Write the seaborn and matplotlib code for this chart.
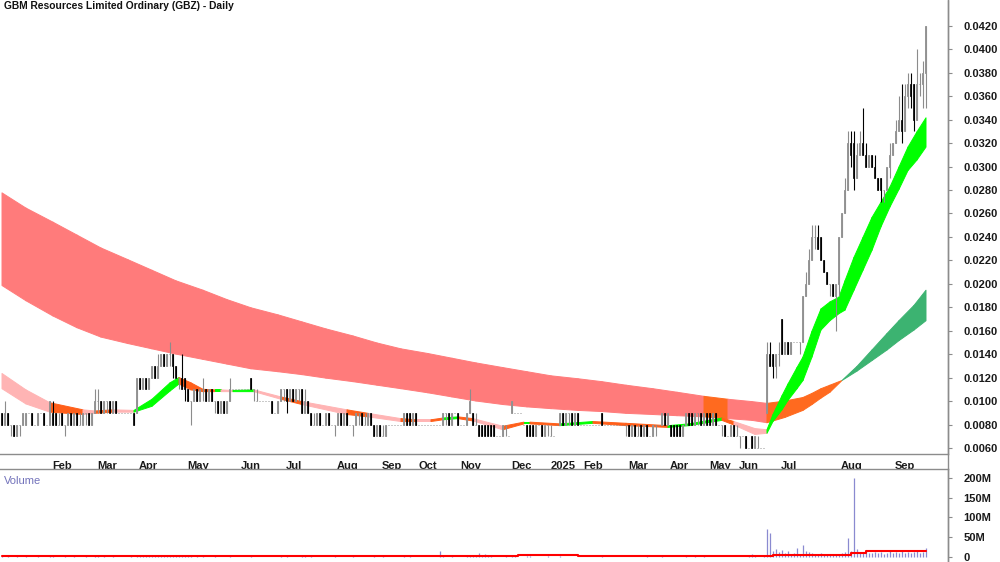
import numpy as np
import matplotlib
matplotlib.use("Agg")
import matplotlib.pyplot as plt
import matplotlib.transforms as mtransforms
from matplotlib.lines import Line2D
from matplotlib.ticker import FuncFormatter
import seaborn as sns

# -------------------------------
# DATA  (prices in units of 0.001, volume in millions)
# one entry per trading day, index 0 = first bar of the chart
# -------------------------------
TITLE = "GBM Resources Limited Ordinary (GBZ) - Daily"

opens = [
    9, 8, 9, 8, 8, 7, 8, 8, 8, 9,  9, 8, 8, 9, 9, 8, 8, 9, 9, 8,
    9, 8, 8, 9, 8, 9, 8, 8, 9, 9,  8, 9, 10, 10, 9, 10, 10, 9, 10, 9,
    9, 9, 9, 9, 9, 9, 12, 11, 12, 11,  12, 13, 12, 13, 14, 13, 14, 14, 13, 12,
    12, 12, 11, 10, 10, 11, 10, 11, 11, 10,  11, 10, 10, 9, 10, 9, 10, 11, 11, 11,
    11, 11, 11, 12, 11, 10, 10, 10, 10, 10,  10, 9, 9, 10, 11, 11, 10, 11, 10, 11,
    11, 9, 10, 9, 8, 8, 9, 8, 8, 9,  8, 8, 8, 9, 8, 9, 8, 8, 8, 9,
    9, 8, 8, 9, 8, 7, 8, 7, 7, 8,  8, 8, 8, 8, 8, 9, 9, 8, 9, 8,
    8, 8, 8, 8, 8, 8, 8, 8, 9, 9,  8, 9, 9, 8, 8, 8, 9, 9, 8, 8,
    8, 8, 8, 8, 8, 7, 7, 7, 8, 7,  9, 9, 9, 9, 8, 8, 8, 8, 7, 8,
    8, 7, 8, 7, 7, 8, 8, 9, 8, 9,  9, 8, 9, 8, 8, 8, 8, 8, 8, 8,
    9, 8, 8, 8, 8, 8, 8, 8, 8, 8,  7, 8, 7, 8, 7, 8, 7, 7, 8, 8,
    8, 9, 8, 8, 8, 8, 8, 7, 8, 9,  9, 8, 9, 9, 8, 9, 9, 8, 9, 8,
    8, 8, 7, 7, 8, 7, 7, 7, 7, 6,  7, 6, 6, 6, 6, 9, 14, 14, 13, 14,
    17, 14, 15, 14, 15, 15, 15, 15, 19, 20,  22, 24, 24, 24, 22, 21, 20, 20, 19, 20,
    24, 26, 28, 32, 32, 29, 31, 32, 31, 30,  31, 30, 29, 29, 28, 28, 30, 31, 32, 33,
    34, 33, 36, 37, 37, 34, 37, 37, 38,
]
closes = [
    8, 9, 8, 8, 7, 8, 8, 9, 9, 9,  8, 8, 9, 9, 8, 8, 10, 8, 8, 8,
    8, 8, 9, 8, 9, 8, 8, 9, 9, 8,  9, 10, 10, 9, 10, 10, 9, 10, 9, 9,
    9, 9, 9, 9, 8, 12, 11, 12, 11, 12,  13, 12, 13, 14, 13, 14, 14, 13, 12, 12,
    11, 11, 10, 10, 11, 10, 11, 11, 10, 11,  10, 10, 9, 10, 9, 10, 11, 11, 11, 11,
    11, 11, 11, 11, 11, 10, 10, 10, 10, 10,  9, 9, 10, 11, 11, 10, 11, 10, 11, 11,
    9, 10, 9, 8, 8, 9, 8, 8, 9, 8,  8, 8, 9, 8, 9, 8, 8, 8, 9, 9,
    8, 8, 9, 8, 7, 8, 7, 7, 8, 8,  8, 8, 8, 8, 9, 8, 8, 9, 8, 8,
    8, 8, 8, 8, 8, 8, 8, 9, 9, 8,  9, 9, 8, 8, 8, 9, 10, 8, 8, 7,
    7, 7, 7, 7, 7, 7, 7, 8, 8, 7,  10, 9, 9, 9, 8, 7, 7, 7, 8, 8,
    7, 8, 8, 7, 7, 8, 9, 8, 9, 9,  8, 9, 8, 8, 8, 8, 8, 8, 8, 8,
    8, 8, 8, 8, 8, 8, 8, 8, 8, 7,  8, 7, 7, 7, 8, 7, 7, 8, 8, 8,
    9, 8, 9, 7, 7, 7, 7, 8, 9, 8,  8, 9, 9, 8, 9, 8, 8, 9, 8, 8,
    8, 7, 7, 8, 7, 7, 7, 7, 6, 6,  6, 7, 6, 6, 6, 14, 13, 13, 14, 14,
    14, 15, 14, 15, 15, 15, 15, 19, 20, 22,  24, 24, 23, 22, 21, 20, 20, 19, 20, 24,
    26, 28, 32, 31, 29, 31, 32, 31, 30, 31,  30, 29, 28, 28, 28, 30, 31, 32, 33, 34,
    33, 36, 37, 36, 34, 37, 37, 38, 42,
]
highs = [
    9, 10, 9, 8, 8, 8, 8, 9, 9, 9,  9, 8, 9, 9, 9, 8, 10, 10, 9, 9,
    9, 8, 9, 9, 9, 9, 9, 9, 9, 9,  9, 11, 11, 10, 10, 10, 10, 10, 10, 9,
    9, 9, 9, 9, 9, 12, 12, 12, 12, 12,  13, 13, 14, 14, 14, 14, 15, 14, 13, 12,
    14, 12, 11, 10, 11, 11, 11, 12, 11, 11,  11, 10, 10, 10, 10, 10, 12, 11, 11, 11,
    11, 11, 11, 12, 11, 11, 10, 10, 10, 10,  10, 9, 10, 11, 11, 11, 11, 11, 11, 11,
    11, 11, 10, 9, 9, 9, 9, 8, 9, 9,  8, 8, 9, 9, 9, 9, 8, 8, 9, 9,
    9, 9, 9, 9, 8, 8, 8, 8, 8, 8,  8, 8, 8, 8, 9, 9, 9, 9, 9, 8,
    8, 8, 8, 8, 8, 8, 8, 9, 9, 9,  9, 9, 9, 8, 8, 9, 11, 9, 9, 8,
    8, 8, 8, 8, 8, 7, 7, 8, 8, 7,  10, 9, 9, 9, 8, 8, 8, 8, 8, 8,
    8, 8, 8, 8, 7, 8, 9, 9, 9, 9,  9, 9, 9, 8, 8, 8, 8, 8, 8, 8,
    9, 8, 8, 8, 8, 8, 8, 8, 8, 8,  8, 8, 8, 8, 8, 8, 7, 8, 8, 8,
    9, 9, 9, 8, 8, 8, 8, 8, 9, 9,  9, 9, 9, 9, 9, 9, 9, 9, 9, 8,
    8, 8, 7, 8, 8, 8, 7, 7, 7, 6,  7, 7, 7, 6, 6, 15, 15, 14, 14, 15,
    17, 15, 15, 15, 15, 15, 15, 19, 21, 23,  25, 25, 25, 24, 22, 21, 20, 20, 20, 24,
    26, 29, 33, 33, 33, 32, 33, 35, 32, 31,  31, 31, 29, 29, 28, 30, 32, 32, 34, 36,
    37, 37, 38, 38, 37, 40, 38, 39, 42,
]
lows = [
    8, 8, 8, 7, 7, 7, 7, 8, 8, 9,  8, 8, 8, 9, 8, 8, 8, 8, 8, 8,
    8, 7, 8, 8, 8, 8, 8, 8, 8, 8,  8, 9, 9, 9, 9, 9, 9, 9, 9, 9,
    9, 9, 9, 9, 8, 9, 11, 11, 11, 11,  12, 12, 12, 13, 13, 13, 13, 12, 12, 11,
    11, 10, 10, 8, 10, 10, 10, 10, 10, 10,  10, 9, 9, 9, 9, 9, 10, 11, 11, 11,
    11, 11, 11, 11, 10, 10, 10, 10, 10, 10,  9, 9, 9, 10, 10, 9, 10, 10, 10, 10,
    9, 9, 9, 8, 8, 8, 8, 8, 8, 8,  8, 7, 8, 8, 8, 8, 8, 7, 8, 8,
    8, 8, 8, 8, 7, 7, 7, 7, 7, 8,  8, 8, 8, 8, 8, 8, 8, 8, 8, 8,
    8, 8, 8, 8, 8, 8, 8, 8, 8, 8,  8, 9, 8, 8, 8, 8, 9, 8, 8, 7,
    7, 7, 7, 7, 7, 7, 7, 7, 7, 7,  9, 9, 9, 9, 8, 7, 7, 7, 7, 8,
    7, 7, 7, 7, 7, 8, 8, 8, 8, 8,  8, 8, 8, 8, 8, 8, 8, 8, 8, 8,
    8, 8, 8, 8, 8, 8, 8, 8, 7, 7,  7, 7, 7, 7, 7, 7, 7, 7, 7, 8,
    8, 8, 8, 7, 7, 7, 7, 7, 8, 8,  8, 8, 8, 8, 8, 8, 8, 8, 8, 8,
    7, 7, 7, 7, 7, 7, 6, 7, 6, 6,  6, 6, 6, 6, 6, 9, 13, 12, 12, 13,
    14, 14, 14, 14, 15, 15, 14, 15, 19, 20,  22, 23, 23, 22, 21, 20, 19, 19, 16, 19,
    24, 26, 28, 30, 28, 29, 31, 31, 30, 30,  30, 29, 28, 27, 27, 28, 29, 31, 32, 33,
    32, 33, 35, 35, 33, 34, 36, 35, 35,
]
volume = [
    2, 1, 2, 1, 1, 2, 1, 1, 2, 1,  1, 1, 2, 1, 1, 1, 3, 2, 1, 1,
    1, 2, 1, 1, 2, 1, 1, 1, 2, 1,  1, 3, 2, 1, 2, 1, 1, 2, 1, 1,
    1, 1, 1, 2, 1, 4, 3, 2, 2, 3,  2, 3, 2, 4, 3, 2, 5, 3, 2, 2,
    3, 2, 2, 3, 1, 2, 1, 2, 1, 1,  1, 2, 1, 1, 1, 1, 2, 1, 1, 1,
    1, 1, 1, 2, 1, 1, 1, 1, 1, 1,  1, 1, 1, 2, 1, 2, 1, 1, 1, 1,
    3, 2, 1, 2, 1, 1, 1, 1, 1, 1,  1, 2, 1, 1, 1, 1, 1, 2, 1, 1,
    1, 1, 1, 1, 2, 1, 1, 2, 1, 1,  1, 1, 1, 1, 2, 1, 2, 1, 1, 1,
    1, 1, 1, 1, 1, 1, 14, 2, 1, 1,  2, 1, 1, 1, 1, 2, 6, 3, 5, 9,
    4, 7, 5, 2, 1, 1, 1, 1, 2, 1,  6, 2, 1, 1, 1, 2, 2, 1, 1, 1,
    1, 1, 2, 1, 1, 1, 2, 1, 1, 1,  1, 1, 1, 1, 1, 1, 1, 1, 1, 1,
    3, 1, 1, 1, 1, 1, 1, 1, 1, 1,  1, 1, 1, 1, 1, 4, 1, 1, 1, 1,
    2, 1, 1, 1, 1, 1, 1, 1, 2, 1,  1, 2, 1, 1, 2, 1, 1, 1, 1, 1,
    1, 1, 1, 1, 1, 1, 1, 1, 1, 3,  8, 2, 1, 1, 2, 70, 62, 15, 20, 12,
    18, 10, 14, 8, 10, 24, 8, 30, 15, 12,  10, 8, 6, 9, 7, 5, 6, 8, 5, 7,
    10, 12, 48, 15, 200, 20, 12, 10, 14, 11,  9, 12, 10, 13, 8, 11, 14, 9, 12, 10,
    15, 11, 13, 9, 12, 14, 10, 12, 22,
]

# volume average (step line), breakpoints
vma_idx = [0, 172, 192, 257, 283, 288, 302, 308]
vma_val = [2, 4, 2, 6, 10, 14, 16, 16]

# long-term MA ribbon: sample day, upper edge, lower edge, state
long_idx = [0, 8, 17, 25, 33, 42, 50, 58, 67, 75, 83, 92, 100, 108, 117, 125,
            133, 142, 150, 158, 167, 175, 183, 192, 200, 208, 217, 225, 234,
            242, 250, 255, 261, 267, 270, 273, 276, 280, 285, 290, 295, 299,
            304, 308]
long_top = [27.8, 26.5, 25.3, 24.2, 23.1, 22.1, 21.2, 20.3, 19.5, 18.7, 18.0,
            17.4, 16.8, 16.2, 15.6, 15.0, 14.5, 14.1, 13.7, 13.3, 12.9, 12.55,
            12.2, 11.95, 11.7, 11.4, 11.1, 10.8, 10.45, 10.2, 10.0, 9.85, 10.05,
            10.35, 10.7, 11.1, 11.4, 11.8, 13.0, 14.4, 15.8, 16.9, 18.2, 19.5]
long_bot = [19.9, 18.6, 17.3, 16.3, 15.5, 14.95, 14.5, 14.05, 13.6, 13.2, 12.8,
            12.55, 12.3, 12.0, 11.7, 11.4, 11.1, 10.75, 10.4, 10.05, 9.75, 9.55,
            9.4, 9.25, 9.15, 9.0, 8.9, 8.8, 8.7, 8.55, 8.4, 8.2, 8.65, 9.25,
            9.75, 10.3, 10.8, 11.8, 12.6, 13.5, 14.4, 15.2, 16.1, 16.9]
long_state = ["down"] * 28 + ["turn", "down", "down"] + ["turn"] * 6 + ["up"] * 7

# short-term MA ribbon
short_idx = [0, 8, 16, 27, 31, 37, 44, 50, 56, 59, 63, 67, 71, 73, 77, 84, 93,
             100, 115, 122, 133, 138, 143, 147, 152, 157, 167, 174, 176, 186,
             197, 208, 222, 229, 240, 244, 251,
             255, 257, 260, 262, 265, 267, 270, 273, 276, 279, 281, 284, 287,
             290, 293, 296, 299, 302, 305, 308]
short_top = [12.4, 11.0, 9.9, 9.3, 9.2, 9.3, 9.25, 10.2, 11.6, 12.05, 11.6,
             11.05, 11.0, 11.0, 10.95, 11.0, 10.4, 10.0, 9.3, 9.0, 8.55, 8.45,
             8.45, 8.6, 8.7, 8.55, 7.9, 8.25, 8.25, 8.1, 8.3, 8.15, 7.95, 8.1,
             8.6, 8.3, 7.7,
             7.6, 8.9, 10.5, 11.5, 12.9, 13.8, 16.0, 17.9, 18.5, 18.9, 20.3,
             22.3, 24.0, 25.7, 27.0, 28.3, 30.0, 31.7, 33.0, 34.2]
short_bot = [11.1, 9.8, 9.1, 8.9, 9.0, 9.1, 9.1, 9.6, 10.9, 11.5, 11.0, 10.85,
             10.85, 10.85, 10.85, 10.85, 10.2, 9.75, 8.9, 8.7, 8.3, 8.3, 8.3,
             8.45, 8.55, 8.35, 7.6, 8.1, 8.1, 7.95, 8.15, 7.95, 7.8, 7.95, 8.4,
             8.0, 7.2,
             7.3, 8.3, 9.3, 10.1, 11.1, 11.8, 13.8, 16.1, 16.9, 17.5, 17.8,
             19.5, 21.2, 22.9, 24.9, 26.6, 28.1, 29.7, 30.6, 31.7]
short_state = ["down", "down", "turn", "down", "turn", "down", "up", "up", "up",
               "turn", "turn", "turn", "up", "down", "up", "down", "turn", "down",
               "turn", "down", "turn", "down", "turn", "up", "turn", "down",
               "turn", "up", "turn", "up", "turn", "turn", "up", "up", "turn",
               "down", "down"] + ["up"] * 20

month_idx = [16, 31, 45, 61, 79, 94, 111, 126, 138, 152, 169, 182, 193, 208,
             222, 235, 245, 259, 279, 297]
month_lbl = ["Feb", "Mar", "Apr", "May", "Jun", "Jul", "Aug", "Sep", "Oct",
             "Nov", "Dec", "2025", "Feb", "Mar", "Apr", "May", "Jun", "Jul",
             "Aug", "Sep"]

# -------------------------------
# STYLE
# -------------------------------
sns.set_style("white")
plt.rcParams["font.family"] = ["Liberation Sans", "DejaVu Sans"]

LONG_COL = {"down": "#ff7b7b", "turn": "#ff6a1f", "up": "#3cb371"}
SHORT_COL = {"down": "#ffb4b4", "turn": "#ff5f1a", "up": "#00ff00"}
AXIS_GREY = "#8c8c8c"

o = np.array(opens) / 1000
c = np.array(closes) / 1000
h = np.array(highs) / 1000
l = np.array(lows) / 1000
idx = np.arange(len(o))

fig = plt.figure(figsize=(10, 5.62), dpi=100)
ax = fig.add_axes([0, 108 / 562, 0.948, 454 / 562])
axv = fig.add_axes([0, 0, 0.948, 93 / 562])


def draw_ribbon(axis, xs, tops, bots, states, palette, z):
    tops = np.array(tops) / 1000
    bots = np.array(bots) / 1000
    for k in range(len(xs) - 1):
        col = palette[states[k]]
        axis.fill_between(xs[k:k + 2], tops[k:k + 2], bots[k:k + 2],
                          color=col, lw=0.7, zorder=z)


draw_ribbon(ax, long_idx, long_top, long_bot, long_state, LONG_COL, 1)
draw_ribbon(ax, short_idx, short_top, short_bot, short_state, SHORT_COL, 2)

# -------------------------------
# CANDLES
# -------------------------------
up = c >= o
ax.vlines(idx[up], l[up], h[up], color=AXIS_GREY, lw=0.8, zorder=3)
ax.vlines(idx[~up], l[~up], h[~up], color="black", lw=0.8, zorder=3)
ax.bar(idx[up], (c - o)[up], bottom=o[up], width=0.66, facecolor="white",
       edgecolor=AXIS_GREY, lw=0.65, zorder=4)
ax.bar(idx[~up], (o - c)[~up], bottom=c[~up], width=0.66, color="black",
       edgecolor="black", lw=0.5, zorder=4)

ax.set_xlim(-0.5, 315.5)
ax.set_ylim(0.00549, 0.0442)
ax.yaxis.tick_right()
ax.set_yticks(np.arange(6, 43, 2) / 1000)
ax.yaxis.set_major_formatter(FuncFormatter(lambda v, _: f"{v:.4f}"))
ax.tick_params(axis="y", direction="out", length=3, width=0.8, color=AXIS_GREY,
               pad=8, labelsize=8, labelcolor="#1a1a1a")
for t in ax.get_yticklabels():
    t.set_fontweight("bold")

ax.set_xticks(np.array(month_idx) - 0.5)
ax.set_xticklabels(month_lbl, ha="left", fontsize=8, fontweight="bold",
                   color="#1a1a1a")
ax.tick_params(axis="x", direction="out", length=4, width=0.8, color=AXIS_GREY,
               pad=1)
shift = mtransforms.ScaledTranslation(3 / 72, 0, fig.dpi_scale_trans)
for t in ax.get_xticklabels():
    t.set_transform(t.get_transform() + shift)

for side in ["top", "left"]:
    ax.spines[side].set_visible(False)
for side in ["right", "bottom"]:
    ax.spines[side].set_color(AXIS_GREY)
    ax.spines[side].set_linewidth(1)

ax.text(0.004, 0.997, TITLE, transform=ax.transAxes, ha="left", va="top",
        fontsize=7.4, fontweight="bold", color="#111111")

# -------------------------------
# VOLUME
# -------------------------------
axv.vlines(idx, 0, volume, color="#8a8ad0", lw=0.9, zorder=2)
sns.lineplot(x=vma_idx, y=vma_val, drawstyle="steps-post", color="red",
             lw=1.5, ax=axv, zorder=3)
axv.set_xlim(-0.5, 315.5)
axv.set_ylim(-12.7, 222.8)
axv.set_xticks([])
axv.set_xlabel("")
axv.set_ylabel("")
axv.yaxis.tick_right()
axv.set_yticks([0, 50, 100, 150, 200])
axv.set_yticklabels(["0", "50M", "100M", "150M", "200M"])
axv.tick_params(axis="y", direction="out", length=3, width=0.8, color=AXIS_GREY,
                pad=8, labelsize=8, labelcolor="#1a1a1a")
for t in axv.get_yticklabels():
    t.set_fontweight("bold")
for side in ["bottom", "left"]:
    axv.spines[side].set_visible(False)
for side in ["right", "top"]:
    axv.spines[side].set_color(AXIS_GREY)
    axv.spines[side].set_linewidth(1)
axv.text(0.004, 0.93, "Volume", transform=axv.transAxes, ha="left", va="top",
         fontsize=8, color="#7373bb")

fig.add_artist(Line2D([0.948, 0.948], [0, 1], transform=fig.transFigure,
                      color=AXIS_GREY, lw=1))

fig.savefig("out.png", dpi=100)
